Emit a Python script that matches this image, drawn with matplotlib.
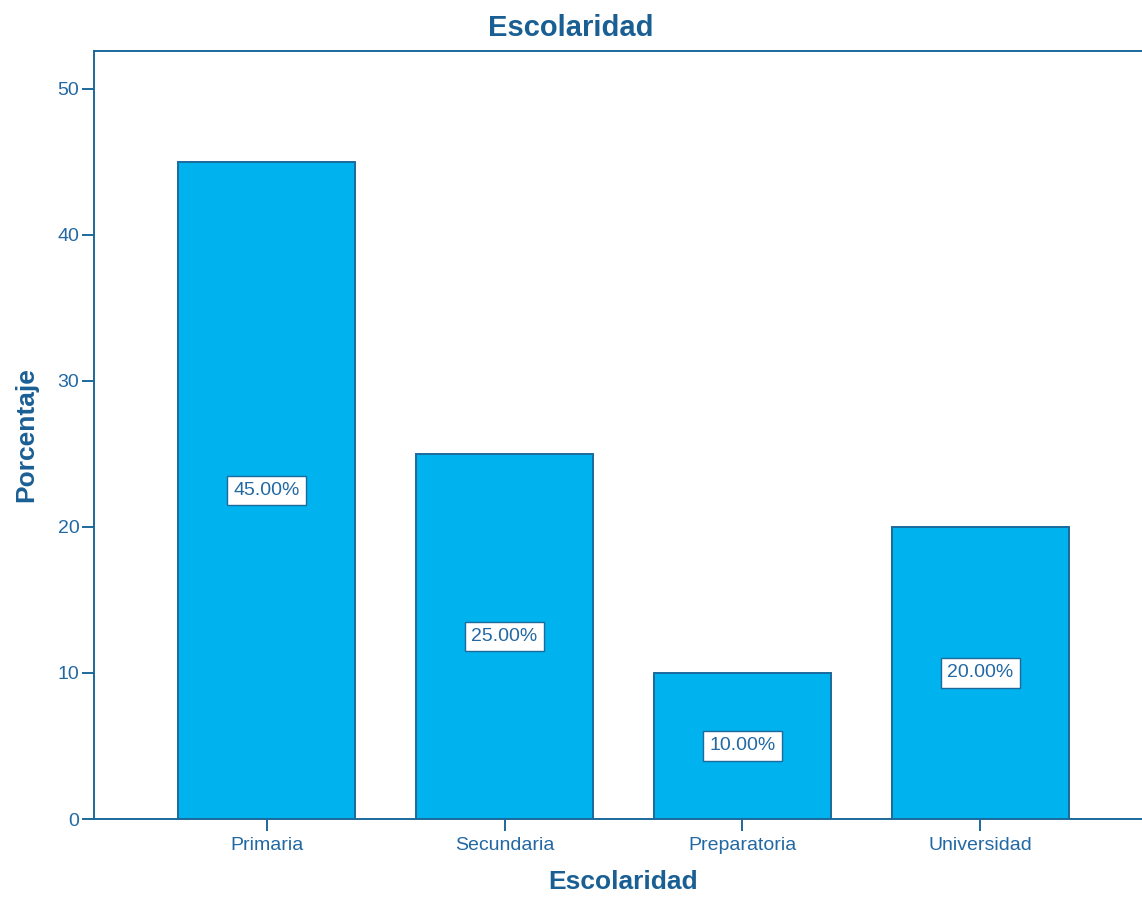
import numpy as np
import matplotlib
matplotlib.use("Agg")
import matplotlib.pyplot as plt

categorias = ["Primaria", "Secundaria", "Preparatoria", "Universidad"]
porcentajes = [45.0, 25.0, 10.0, 20.0]
y_ticks = [0, 10, 20, 30, 40, 50]

texto = "#2268a3"
titulo_col = "#1a5f94"
relleno = "#00b2ee"
borde = "#1b6a9c"

plt.rcParams['font.family'] = ['Liberation Sans', 'DejaVu Sans']

fig = plt.figure(figsize=(11.42, 9.01), dpi=100)
# right spine sits just outside the picture, as in the source
ax = fig.add_axes([94 / 1142, 82 / 901, (1153 - 94) / 1142, (819 - 51) / 901])

x = np.arange(len(categorias))
ax.bar(x, porcentajes, width=0.744, color=relleno, edgecolor=borde, linewidth=1.4)

for xi, v in zip(x, porcentajes):
    ax.text(xi, v / 2, "%.2f%%" % v, ha="center", va="center", fontsize=14, color=texto,
            bbox=dict(boxstyle="square,pad=0.33", facecolor="white", edgecolor=borde, linewidth=1))

ax.set_xlim(-0.725, 3.725)
ax.set_ylim(0, 52.6)
ax.set_xticks(x)
ax.set_xticklabels(categorias)
ax.set_yticks(y_ticks)

for s in ax.spines.values():
    s.set_color(borde)
    s.set_linewidth(1.4)

ax.tick_params(axis="both", colors=borde, labelcolor=texto, labelsize=14, width=1.4, length=8.6)
ax.tick_params(axis="y", pad=2)
ax.tick_params(axis="x", pad=4)

ax.set_xlabel("Escolaridad", fontsize=19, fontweight="bold", color=titulo_col, labelpad=12)
ax.set_ylabel("Porcentaje", fontsize=19, fontweight="bold", color=titulo_col, labelpad=14)
fig.text(0.5, 1 - 28 / 901, "Escolaridad", ha="center", va="center", fontsize=21,
         fontweight="bold", color=titulo_col)

fig.savefig("out.png", dpi=100)
